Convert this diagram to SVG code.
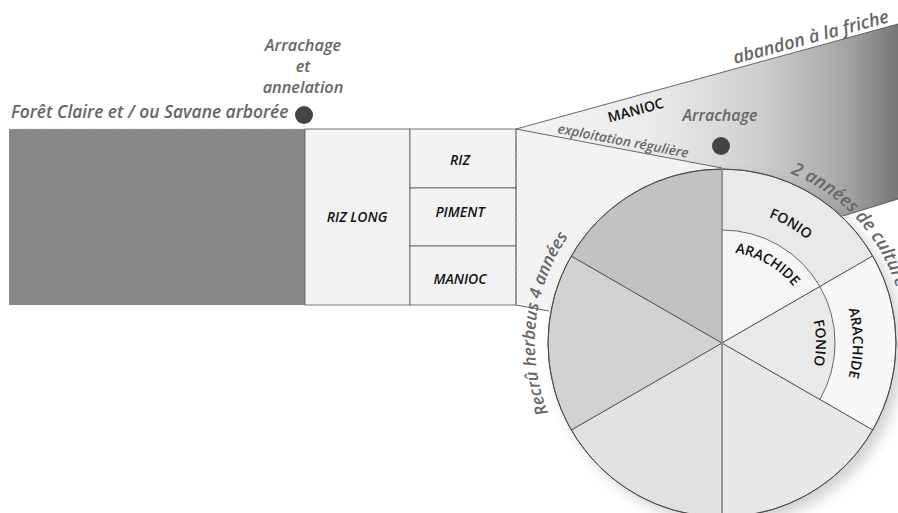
<svg xmlns="http://www.w3.org/2000/svg" width="898" height="513" viewBox="0 0 898 513">
<defs>
<linearGradient id="wedgeGrad" gradientUnits="userSpaceOnUse" x1="516" y1="0" x2="898" y2="0">
<stop offset="0" stop-color="#f4f4f4"/>
<stop offset="0.35" stop-color="#ebebeb"/>
<stop offset="0.65" stop-color="#cdcdcd"/>
<stop offset="0.85" stop-color="#a8a8a8"/>
<stop offset="1" stop-color="#777777"/>
</linearGradient>
<filter id="shadow" x="-20%" y="-20%" width="140%" height="140%">
<feGaussianBlur stdDeviation="7"/>
</filter>
<path id="arcCulture" d="M 790.6 173.3 A 183 183 0 0 1 905 343"/>
<path id="arcRecru" d="M 548.3 412.8 A 187 187 0 0 1 628.5 181"/>
<path id="arcFonioTop" d="M 722 209 A 134 134 0 0 1 838.05 276"/>
<path id="arcArachTop" d="M 722 252 A 91 91 0 0 1 800.8 297.5"/>
<path id="arcFonioR" d="M 803.4 296 A 94 94 0 0 1 803.4 390"/>
<path id="arcArachR" d="M 835.4 277.5 A 131 131 0 0 1 835.4 408.5"/>
</defs>
<style>
.ln{stroke:#444;stroke-width:0.8;fill:none}
.box{stroke:#555;stroke-width:0.8}
.crop{font-family:"Open Sans","Noto Sans",sans-serif;font-weight:600;font-style:italic;font-size:14px;fill:#111;text-anchor:middle}
.ring{font-family:"Open Sans","Noto Sans",sans-serif;font-weight:600;font-size:14px;fill:#111}
.lbl{font-family:"Open Sans","Noto Sans",sans-serif;font-weight:600;font-style:italic;fill:#666}
.dark{fill:#444}
.sec{stroke:#444;stroke-width:0.8}
</style>

<g id="wedge">
<polygon points="516,129 898,24 898,199 843,216 790,240 722,168" fill="url(#wedgeGrad)"/>
<text class="lbl" x="735" y="64" font-size="18" fill="#555" transform="rotate(-15.2 735 64)">abandon à la friche</text>
<text class="ring" x="637" y="115" font-size="13.5" text-anchor="middle" transform="rotate(-15.2 637 115)">MANIOC</text>
<text class="lbl" x="557" y="133" font-size="13.5" fill="#555" transform="rotate(10.8 557 133)">exploitation régulière</text>
</g>

<g id="transition">
<polygon points="516,129 722,168 620,230 549,311 516,305" fill="#f3f3f3"/>
</g>

<g id="forest">
<rect x="9" y="129" width="296" height="176" fill="#878787"/>
<text class="lbl" x="11" y="118" font-size="17.4">Forêt Claire et / ou Savane arborée</text>
</g>

<g id="arrachage-annelation">
<circle cx="304" cy="115" r="9" class="dark"/>
<text class="lbl" font-size="16.3" fill="#444" text-anchor="middle"><tspan x="303" y="51">Arrachage</tspan><tspan x="303" y="72">et</tspan><tspan x="303" y="93">annelation</tspan></text>
</g>

<g id="riz-long">
<rect x="305" y="129" width="105" height="176" fill="#f3f3f3" class="box"/>
<text class="crop" x="357" y="222">RIZ LONG</text>
</g>
<g id="riz">
<rect x="410" y="129" width="106" height="59" fill="#f3f3f3" class="box"/>
<text class="crop" x="460" y="165">RIZ</text>
</g>
<g id="piment">
<rect x="410" y="188" width="106" height="58" fill="#f3f3f3" class="box"/>
<text class="crop" x="460" y="217">PIMENT</text>
</g>
<g id="manioc">
<rect x="410" y="246" width="106" height="59" fill="#f3f3f3" class="box"/>
<text class="crop" x="460" y="284">MANIOC</text>
</g>

<g id="connectors">
<line x1="516" y1="129" x2="898" y2="24" class="ln"/>
<line x1="516" y1="129" x2="722" y2="168" class="ln"/>
<line x1="843" y1="216" x2="898" y2="199" class="ln"/>
<line x1="516" y1="305" x2="549" y2="311" class="ln"/>
<line x1="516" y1="129" x2="516" y2="305" stroke="#555" stroke-width="1" stroke-dasharray="1.2 1"/>
<line x1="9" y1="129" x2="516" y2="129" stroke="#bbb" stroke-width="0.8" stroke-dasharray="1.2 1"/>
</g>

<g id="arrachage">
<circle cx="721" cy="146" r="9" class="dark"/>
<text class="lbl" x="720" y="121" font-size="16" text-anchor="middle">Arrachage</text>
</g>

<g id="rotation-circle">
<circle cx="729" cy="350" r="174" fill="#000" opacity="0.18" filter="url(#shadow)"/>
<path d="M722 343 L722 169 A174 174 0 0 1 872.7 256 Z" fill="#e9e9e9" class="sec"/>
<path d="M722 343 L872.7 256 A174 174 0 0 1 872.7 430 Z" fill="#f8f8f8" class="sec"/>
<path d="M722 343 L872.7 430 A174 174 0 0 1 722 517 Z" fill="#e8e8e8" class="sec"/>
<path d="M722 343 L722 517 A174 174 0 0 1 571.3 430 Z" fill="#e1e1e1" class="sec"/>
<path d="M722 343 L571.3 430 A174 174 0 0 1 571.3 256 Z" fill="#d2d2d2" class="sec"/>
<path d="M722 343 L571.3 256 A174 174 0 0 1 722 169 Z" fill="#c2c2c2" class="sec"/>
<path d="M722 343 L722 230 A113 113 0 0 1 819.9 286.5 Z" fill="#f5f5f5" class="sec"/>
<path d="M722 343 L819.9 286.5 A113 113 0 0 1 819.9 399.5 Z" fill="#e9e9e9" class="sec"/>
<circle cx="722" cy="343" r="174" fill="none" stroke="#444" stroke-width="0.9"/>
<line x1="722" y1="169" x2="722" y2="517" stroke="#999" stroke-width="1.6"/>
<text class="ring"><textPath href="#arcFonioTop" startOffset="50%" text-anchor="middle">FONIO</textPath></text>
<text class="ring"><textPath href="#arcArachTop" startOffset="50%" text-anchor="middle">ARACHIDE</textPath></text>
<text class="ring"><textPath href="#arcFonioR" startOffset="50%" text-anchor="middle">FONIO</textPath></text>
<text class="ring"><textPath href="#arcArachR" startOffset="50%" text-anchor="middle">ARACHIDE</textPath></text>
<text class="lbl" font-size="18"><textPath href="#arcCulture">2 années de culture</textPath></text>
<text class="lbl" font-size="17"><textPath href="#arcRecru">Recrû herbeus 4 années</textPath></text>
</g>
</svg>
